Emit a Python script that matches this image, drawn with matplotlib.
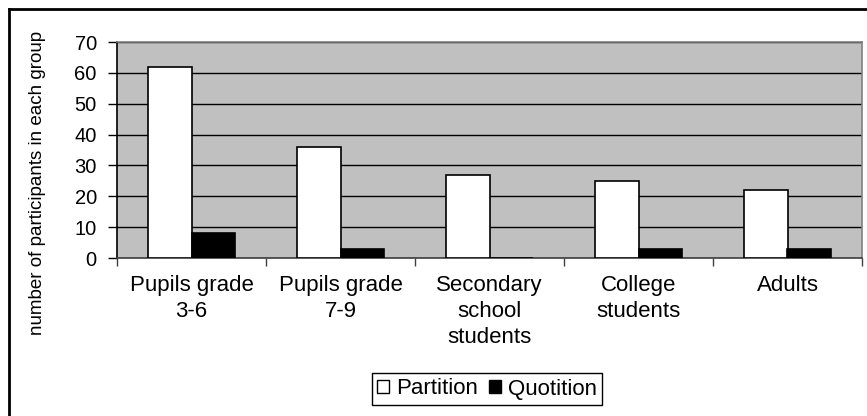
import matplotlib.pyplot as plt
from matplotlib.patches import Patch
from matplotlib.lines import Line2D
import numpy as np

plt.rcParams['font.family'] = ['Liberation Sans', 'DejaVu Sans']

# data
groups = ['Pupils grade\n3-6', 'Pupils grade\n7-9', 'Secondary\nschool\nstudents',
          'College\nstudents', 'Adults']
partition = [62, 36, 27, 25, 22]
quotition = [8, 3, 0, 3, 3]
series_names = ['Partition', 'Quotition']

fig = plt.figure(figsize=(8.67, 4.16), dpi=100)
ax = fig.add_axes([117 / 867, 1 - 258 / 416, 745 / 867, 216 / 416])
ax.set_facecolor('#c0c0c0')

x = np.arange(len(groups))
w = 0.29
ax.bar(x - w / 2, partition, w, color='white', edgecolor='black', linewidth=1.2, zorder=3)
ax.bar(x + w / 2, quotition, w, color='black', edgecolor='black', linewidth=1.2, zorder=3)

ax.set_xlim(-0.5, len(groups) - 0.5)
ax.set_ylim(0, 70)
ax.set_yticks(range(0, 71, 10))
ax.yaxis.grid(True, color='black', linewidth=1.0, zorder=1)
ax.set_axisbelow(True)

# ticks on category boundaries, labels under the group centres
ax.set_xticks(np.arange(-0.5, len(groups), 1.0))
ax.set_xticklabels([])
ax.set_xticks(x, minor=True)
ax.set_xticklabels(groups, minor=True, fontsize=16, linespacing=1.33)
ax.tick_params(axis='x', which='major', length=6, width=1, color='#404040', direction='out')
ax.tick_params(axis='x', which='minor', length=0, pad=12)
ax.tick_params(axis='y', length=6.5, width=1, labelsize=14.5, pad=8)

ax.spines['left'].set_color('black')
ax.spines['bottom'].set_color('#404040')
ax.spines['top'].set_color('#808080')
ax.spines['right'].set_color('#808080')
for s in ax.spines.values():
    s.set_linewidth(1.2)

fig.text(38 / 867, 1 - 183 / 416, 'number of participants in each group',
         rotation=90, ha='center', va='center', fontsize=13.5)

handles = [Patch(facecolor='white', edgecolor='black', linewidth=1),
           Patch(facecolor='black', edgecolor='black', linewidth=1)]
leg = fig.legend(handles, series_names, loc='center', bbox_to_anchor=(487 / 867, 1 - 389 / 416),
                 ncol=2, fontsize=16, frameon=True, fancybox=False, framealpha=1,
                 edgecolor='black', handlelength=0.55, handleheight=0.55, handletextpad=0.3,
                 columnspacing=0.5, borderpad=0.25, borderaxespad=0)
leg.get_frame().set_linewidth(1.0)

# outer chart border (only top and left are visible in the crop)
fig.add_artist(Line2D([9 / 867, 1], [1 - 9 / 416, 1 - 9 / 416], color='black', linewidth=2,
                      transform=fig.transFigure))
fig.add_artist(Line2D([9 / 867, 9 / 867], [0, 1 - 9 / 416], color='black', linewidth=2,
                      transform=fig.transFigure))

fig.savefig('out.png', dpi=100)
